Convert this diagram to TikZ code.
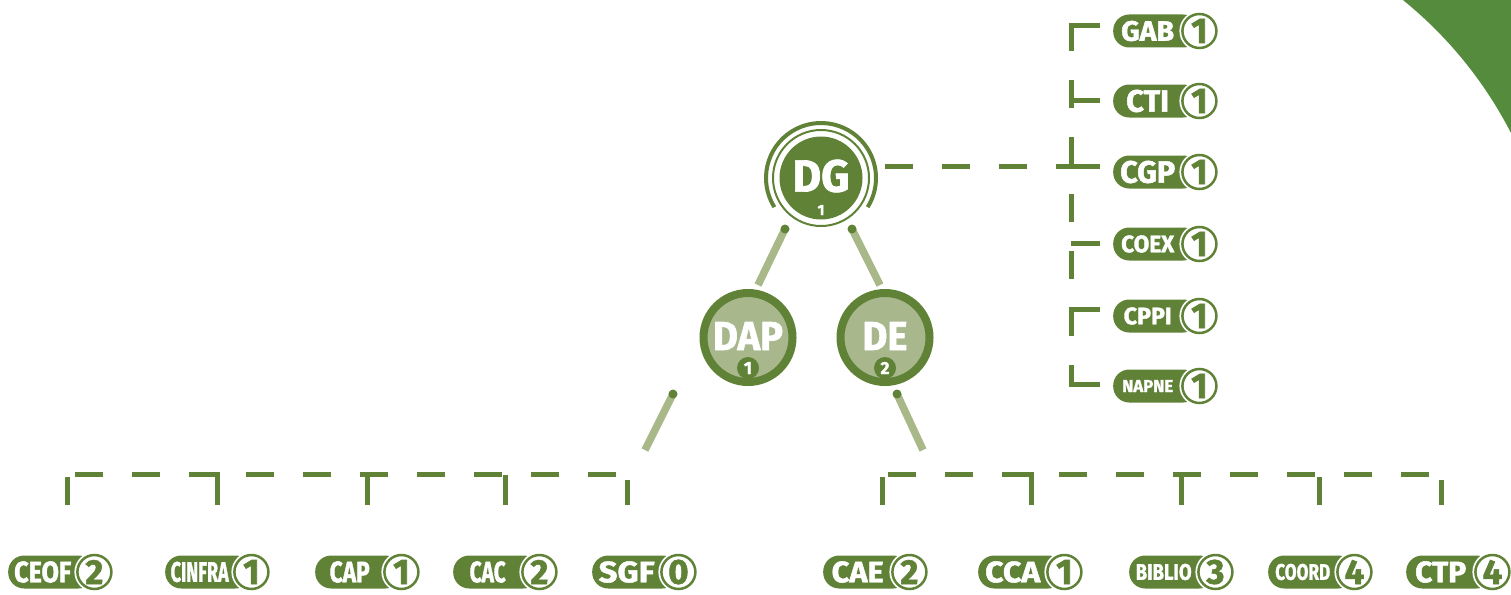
\documentclass[tikz,border=0pt]{standalone}
\usepackage{fontspec}
\setmainfont{Fira Sans}[BoldFeatures={FakeBold=1.6}]
\usepackage{graphicx}
\definecolor{dkgreen}{HTML}{5F8237}
\definecolor{ltgreen}{HTML}{A9B78C}
\definecolor{lnkgreen}{HTML}{A8B888}
\definecolor{cornergreen}{HTML}{558B3D}
\newcommand{\lbl}[3]{\resizebox{#1pt}{#2pt}{\bfseries #3}}
\newcommand{\badgenum}[1]{\resizebox{!}{24pt}{\bfseries #1}}
\tikzset{
    pill/.style={fill=dkgreen, text=white, rounded corners=16pt, minimum width=86pt, minimum height=33pt, inner sep=0pt, anchor=west},
    badge/.style={circle, fill=white, draw=dkgreen, line width=2.5pt, minimum size=34pt, inner sep=0pt, text=dkgreen, preaction={draw=white, line width=6pt}},
    hub/.style={circle, fill=dkgreen, minimum size=83pt, inner sep=0pt},
    unit/.style={circle, fill=ltgreen, draw=dkgreen, line width=8pt, minimum size=89pt, inner sep=0pt},
    minibadge/.style={circle, fill=dkgreen, text=white, minimum size=22pt, inner sep=0pt},
    txt/.style={text=white, inner sep=0pt},
    bus/.style={dkgreen, line width=5pt, dash pattern=on 28pt off 29pt},
    drop/.style={dkgreen, line width=5pt},
    link/.style={lnkgreen, line width=7.5pt}
}
\newcommand{\Pill}[6]{
    \node[pill] (#1) at (#2,#3) {\lbl{#4}{#5}{#1}\kern17pt};
    \node[badge] (#1-n) at (#1.east) {\badgenum{#6}};
}

\begin{document}
\begin{tikzpicture}[x=1pt, y=-1pt]
    \useasboundingbox (0,0) rectangle (1511,594);
    \fill[cornergreen] (1511,0) -- (1511,133) arc[start angle=-27.2, end angle=-51, radius=415.4] -- cycle;

    % DG
    \node[hub] (DG) at (821,178) {};
    \draw[dkgreen, line width=2pt] (DG.center) circle[radius=48];
    \draw[dkgreen, line width=4pt] (DG.center) ++(148:55) arc[start angle=148, end angle=392, radius=55];
    \node[txt] (DG-t) at (821,176) {\lbl{57}{32}{DG}};
    \node[txt] (DG-n) at (821,210) {\resizebox{!}{10pt}{\bfseries 1}};

    % DAP and DE
    \node[unit] (DAP) at (748,337.5) {};
    \node[txt] (DAP-t) at (748,336) {\lbl{70}{28}{DAP}};
    \node[minibadge] (DAP-n) at (748,368) {\resizebox{!}{12pt}{\bfseries 1}};
    \node[unit] (DE) at (885,337.5) {};
    \node[txt] (DE-t) at (885,336) {\lbl{45}{28}{DE}};
    \node[minibadge] (DE-n) at (885,368) {\resizebox{!}{12pt}{\bfseries 2}};

    \coordinate (DG-l) at (785,229);
    \coordinate (DG-r) at (852,229);
    \coordinate (DAP-top) at (758,285);
    \coordinate (DE-top) at (880,285);
    \coordinate (DAP-b) at (673,394);
    \coordinate (DAP-end) at (645,450);
    \coordinate (DE-b) at (897,394);
    \coordinate (DE-end) at (923,450);
    \draw[link] (DG-l) -- (DAP-top);
    \draw[link] (DG-r) -- (DE-top);
    \draw[link] (DAP-b) -- (DAP-end);
    \draw[link] (DE-b) -- (DE-end);
    \fill[dkgreen] (DG-l) circle[radius=4.5];
    \fill[dkgreen] (DG-r) circle[radius=4.5];
    \fill[dkgreen] (DAP-b) circle[radius=4.5];
    \fill[dkgreen] (DE-b) circle[radius=4.5];

    % staff of DG
    \draw[bus] (885,166) -- (1071,166);
    \draw[bus] (1071,23) -- (1071,385);
    \draw[drop] (1068.5,25.5) -- (1100,25.5);
    \draw[drop] (1071,100.5) -- (1100,100.5);
    \draw[drop] (1068.5,166) -- (1100,166);
    \draw[drop] (1071,243) -- (1100,243);
    \draw[drop] (1068.5,309.5) -- (1100,309.5);
    \draw[drop] (1068.5,384.5) -- (1100,384.5);
    \Pill{GAB}{1113}{31}{53}{20}{1}
    \Pill{CTI}{1113}{101}{43}{22}{1}
    \Pill{CGP}{1113}{172}{55}{22}{1}
    \Pill{COEX}{1113}{244}{53}{17}{1}
    \Pill{CPPI}{1113}{316}{48}{17}{1}
    \Pill{NAPNE}{1113}{386}{51}{12}{1}

    % under DAP
    \draw[bus] (75,474.5) -- (628,474.5);
    \draw[drop] (67.5,477) -- (67.5,505);
    \draw[drop] (217.5,472) -- (217.5,505);
    \draw[drop] (367.5,472) -- (367.5,505);
    \draw[drop] (505.5,475) -- (505.5,505);
    \draw[drop] (627.5,480) -- (627.5,505);
    \Pill{CEOF}{8}{572}{57}{21}{2}
    \Pill{CINFRA}{165}{572}{58}{20}{1}
    \Pill{CAP}{315}{572}{40}{21}{1}
    \Pill{CAC}{453}{572}{36}{21}{2}
    \Pill{SGF}{592}{572}{56}{21}{0}

    % under DE
    \draw[bus] (888,474.5) -- (1441,474.5);
    \draw[drop] (882,477) -- (882,505);
    \draw[drop] (1031,472) -- (1031,505);
    \draw[drop] (1181,472) -- (1181,505);
    \draw[drop] (1319.5,477) -- (1319.5,505);
    \draw[drop] (1441.5,480) -- (1441.5,505);
    \Pill{CAE}{823}{572}{52}{21}{2}
    \Pill{CCA}{978}{572}{55}{21}{1}
    \Pill{BIBLIO}{1129}{572}{56}{16}{3}
    \Pill{COORD}{1268}{572}{55}{16}{4}
    \Pill{CTP}{1406}{572}{51}{21}{4}
\end{tikzpicture}
\end{document}
